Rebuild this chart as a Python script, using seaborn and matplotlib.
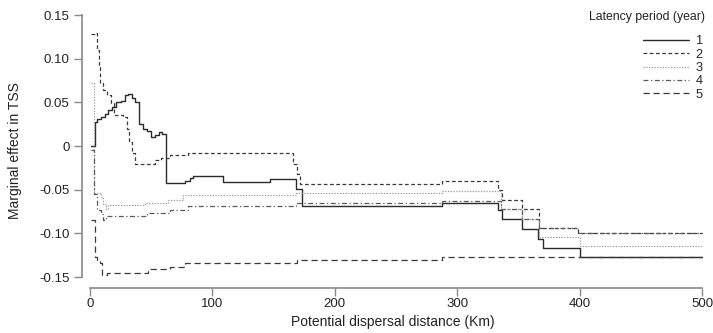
import matplotlib
matplotlib.use("Agg")
import matplotlib.pyplot as plt
import seaborn as sns
import pandas as pd

# ---- data (step functions, value holds until next x) ----
x1 = [1, 4, 6, 9, 12, 15, 18, 21, 25, 29, 31, 34, 37, 40, 43, 47, 50, 53, 56, 59, 62,
      78, 82, 84, 109, 147, 168, 173, 288, 333, 337, 353, 366, 370, 400, 500]
y1 = [0.000, 0.027, 0.031, 0.033, 0.037, 0.041, 0.045, 0.050, 0.052, 0.058, 0.060, 0.055,
      0.050, 0.025, 0.019, 0.017, 0.010, 0.013, 0.016, 0.014, -0.042, -0.040, -0.037,
      -0.034, -0.041, -0.038, -0.049, -0.069, -0.065, -0.073, -0.084, -0.095, -0.106,
      -0.117, -0.127, -0.127]

x2 = [1, 4, 6, 7, 8, 11, 14, 17, 20, 27, 30, 32, 34, 37, 53, 58, 65, 80, 166, 169, 172,
      175, 288, 333, 337, 353, 367, 399, 500]
y2 = [0.128, 0.130, 0.110, 0.090, 0.072, 0.064, 0.058, 0.049, 0.035, 0.033, 0.020, 0.005,
      -0.008, -0.020, -0.016, -0.014, -0.010, -0.008, -0.020, -0.032, -0.043, -0.043,
      -0.040, -0.050, -0.062, -0.072, -0.094, -0.100, -0.100]

x3 = [1, 3.5, 9, 11, 13, 15, 45, 64, 76, 168, 288, 336, 353, 367, 400, 500]
y3 = [0.072, -0.054, -0.058, -0.066, -0.072, -0.068, -0.065, -0.062, -0.056, -0.054,
      -0.051, -0.072, -0.083, -0.104, -0.115, -0.115]

x4 = [1, 3.5, 6, 9, 11, 13, 47, 65, 80, 168, 288, 336, 353, 367, 399, 500]
y4 = [-0.004, -0.055, -0.073, -0.078, -0.085, -0.080, -0.077, -0.073, -0.069, -0.065,
      -0.063, -0.072, -0.083, -0.094, -0.100, -0.100]

x5 = [1, 4, 6, 8, 10, 14, 47.5, 65, 77.6, 169, 288, 500]
y5 = [-0.085, -0.127, -0.130, -0.134, -0.148, -0.145, -0.141, -0.138, -0.134, -0.130,
      -0.127, -0.127]

labels = ["1", "2", "3", "4", "5"]
xs = [x1, x2, x3, x4, x5]
ys = [y1, y2, y3, y4, y5]

x_ticks = [0, 100, 200, 300, 400, 500]
y_ticks = [-0.15, -0.10, -0.05, 0, 0.05, 0.10, 0.15]
y_ticklabels = ["-0.15", "-0.10", "-0.05", "0", "0.05", "0.10", "0.15"]

# ---- styling ----
sns.set_theme(style="white")
plt.rcParams["font.family"] = ["Liberation Sans", "DejaVu Sans"]

colors = ["#2b2b2b", "#3a3a3a", "#9a9a9a", "#5a5a5a", "#3a3a3a"]
styles = ["-", (0, (3, 2)), (0, (1, 1.2)), (0, (4, 2, 1, 2)), (0, (5, 3))]
widths = [1.0, 0.9, 0.9, 0.9, 0.9]

fig = plt.figure(figsize=(7.13, 3.33), dpi=100)
ax = fig.add_axes([0.115, 0.135, 0.873, 0.825])

for lab, xv, yv, c, ls, lw in zip(labels, xs, ys, colors, styles, widths):
    df = pd.DataFrame({"x": xv, "y": yv})
    sns.lineplot(data=df, x="x", y="y", ax=ax, estimator=None, sort=False,
                 drawstyle="steps-post", color=c, linestyle=ls, linewidth=lw, label=lab)

ax.set_xlim(-6.5, 502)
ax.set_ylim(-0.1626, 0.152)

for s in ["top", "right"]:
    ax.spines[s].set_visible(False)
for s in ["left", "bottom"]:
    ax.spines[s].set_color("#8a8a8a")
    ax.spines[s].set_linewidth(1.2)
ax.spines["left"].set_bounds(-0.15, 0.15)
ax.spines["bottom"].set_bounds(0, 500)

ax.set_xticks(x_ticks)
ax.set_yticks(y_ticks)
ax.set_yticklabels(y_ticklabels)
ax.tick_params(axis="y", direction="out", length=6, width=1.0, color="#8a8a8a",
               labelsize=9.5, labelcolor="#222222", pad=3, left=True)
ax.tick_params(axis="x", direction="out", length=6, width=1.0, color="#8a8a8a",
               labelsize=9.5, labelcolor="#222222", pad=1.5, bottom=True)

ax.set_xlabel("Potential dispersal distance (Km)", fontsize=10, color="#222222", labelpad=3)
ax.set_ylabel("Marginal effect in TSS", fontsize=10, color="#222222", labelpad=12)

leg = ax.legend(frameon=False, fontsize=9.2, loc="upper right",
                bbox_to_anchor=(703 / 713, 1 - 35.5 / 333), bbox_transform=fig.transFigure,
                borderaxespad=0, borderpad=0,
                handlelength=3.6, handletextpad=0.55, labelspacing=0.1)
for t in leg.get_texts():
    t.set_color("#222222")
fig.text(705 / 713, 1 - 17 / 333, "Latency period (year)", ha="right", va="center",
         fontsize=8.8, color="#222222")

fig.savefig("out.png", dpi=100)
